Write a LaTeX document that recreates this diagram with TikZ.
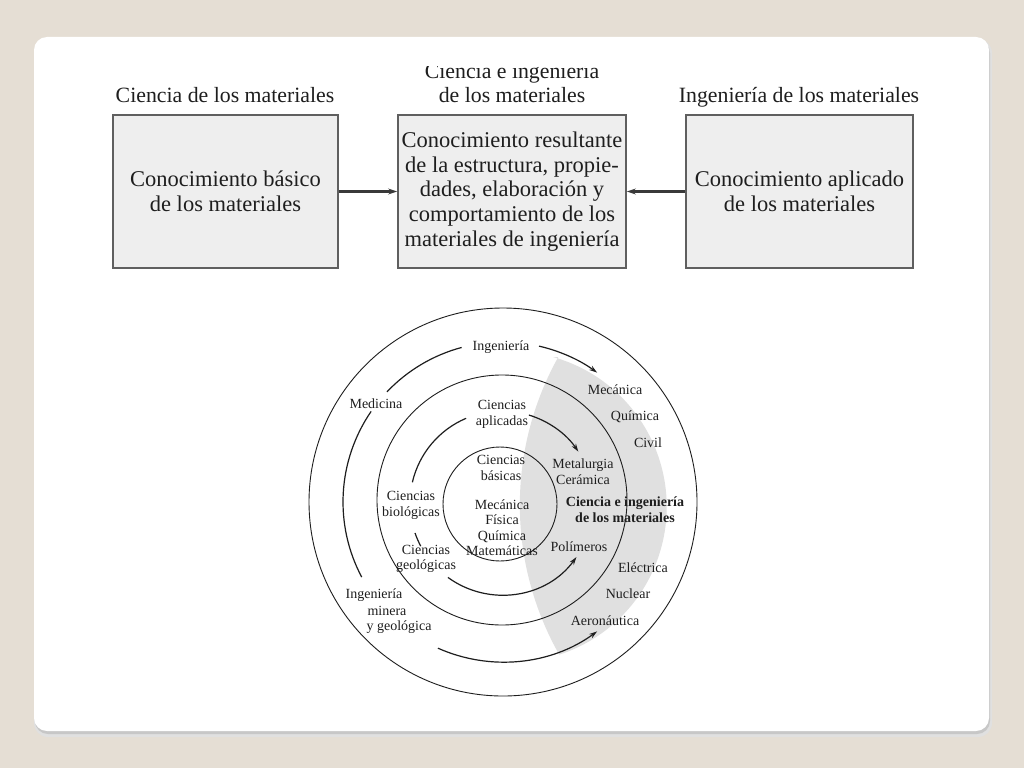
\documentclass[tikz,border=0pt]{standalone}
\usepackage{fontspec}
\setmainfont{Liberation Serif}
\usetikzlibrary{arrows.meta}
\definecolor{bgbeige}{RGB}{229,222,212}
\definecolor{boxfill}{RGB}{238,238,238}
\definecolor{boxline}{RGB}{95,95,95}
\definecolor{shadegray}{RGB}{224,224,224}
\definecolor{ink}{RGB}{30,30,30}
\begin{document}
\begin{tikzpicture}[x=1pt,y=1pt,
  box/.style={draw=boxline, line width=1.8pt, fill=boxfill, minimum width=#1, minimum height=153pt, inner sep=0pt, align=center, font=\fontsize{22.5}{24.8}\selectfont, text=ink},
  head/.style={font=\fontsize{21.8}{24}\selectfont, text=ink, align=center, inner sep=0pt, anchor=base},
  lbl/.style={font=\fontsize{14}{15.5}\selectfont, text=ink, align=center, inner sep=0pt},
  ring/.style={draw=ink, line width=0.9pt},
  flow/.style={draw=ink, line width=1.2pt},
  tip/.style={-{Stealth[length=8pt,width=5pt]}},
  toparrow/.style={draw=boxline!60!black, line width=2.2pt, -{Stealth[length=9pt,width=6pt]}},
]
\useasboundingbox (0,0) rectangle (1024,-768);
\fill[bgbeige] (0,0) rectangle (1024,-768);
% panel with shadow
\fill[black!12, rounded corners=14pt] (34,-39) rectangle (992,-737);
\fill[black!22, rounded corners=13pt] (35,-40) rectangle (990,-734);
\fill[white, rounded corners=13pt] (34,-37) rectangle (989,-731);

% ---- top diagram ----
\node[box=225pt] (b1) at (225.5,-191.5) {Conocimiento básico\\de los materiales};
\node[box=228pt] (b2) at (512,-191.5) {Conocimiento resultante\\de la estructura, propie-\\dades, elaboración y\\comportamiento de los\\materiales de ingeniería};
\node[box=227pt] (b3) at (799.5,-191.5) {Conocimiento aplicado\\de los materiales};
\draw[toparrow] (b1.east) -- (b2.west);
\draw[toparrow] (b3.west) -- (b2.east);

\node[head] (h1) at (225,-102) {Ciencia de los materiales};
\begin{scope}
\clip (380,-66) rectangle (650,-110);
\node[head] (h2a) at (512,-78) {Ciencia e ingeniería};
\end{scope}
\node[head] (h2b) at (512,-102) {de los materiales};
\node[head] (h3) at (799,-102) {Ingeniería de los materiales};

% ---- circle diagram ----
\fill[shadegray] (553,-357) arc[start angle=74.4, end angle=-72, radius=155.5]
  arc[start angle=209.5, end angle=150.9, radius=304] -- cycle;

\draw[ring] (503,-502) circle[radius=194];
\draw[ring] (502,-500) circle[radius=125];
\draw[ring] (500,-504) circle[radius=57];

\coordinate (C) at (503,-502);
\coordinate (C2) at (502,-503);
\draw[flow] ([shift={(208:160)}]C) arc[start angle=208,end angle=145.5,radius=160];
\draw[flow] ([shift={(136.5:160)}]C) arc[start angle=136.5,end angle=105,radius=160];
\draw[flow,tip] ([shift={(77:160)}]C) arc[start angle=77,end angle=54,radius=160];
\draw[flow,tip] ([shift={(246:160)}]C) arc[start angle=246,end angle=306,radius=160];

\draw[flow,tip] ([shift={(73:92)}]C2) arc[start angle=73,end angle=34,radius=92];
\draw[flow] ([shift={(113:92)}]C2) arc[start angle=113,end angle=167,radius=92];
\draw[flow] ([shift={(199:92)}]C2) arc[start angle=199,end angle=208,radius=92];
\draw[flow,tip] ([shift={(234:92)}]C2) arc[start angle=234,end angle=324,radius=92];

\node[lbl] (ing) at (501,-347) {Ingeniería};
\node[lbl] (med) at (376,-404) {Medicina};
\node[lbl] (mec) at (615,-390) {Mecánica};
\node[lbl] (qui) at (635,-417) {Química};
\node[lbl] (civ) at (648,-443) {Civil};
\node[lbl] (apl) at (502,-414.5) {Ciencias\\aplicadas};
\node[lbl] (bas) at (501,-468) {Ciencias\\básicas};
\node[lbl] (met) at (583,-471.5) {Metalurgia\\Cerámica};
\node[lbl] (bio) at (411,-505.5) {Ciencias\\biológicas};
\node[lbl] (core) at (502,-527.5) {Mecánica\\Física\\Química\\Matemáticas};
\node[lbl, font=\fontsize{14}{15.5}\selectfont\bfseries] (cim) at (625,-509.5) {Ciencia e ingeniería\\de los materiales};
\node[lbl] (pol) at (579,-547) {Polímeros};
\node[lbl] (geo) at (426,-559) {Ciencias\\geológicas};
\node[lbl] (ele) at (643,-568) {Eléctrica};
\node[lbl] (nuc) at (628,-594) {Nuclear};
\node[lbl] (aer) at (605,-621) {Aeronáutica};
\node[lbl] (min1) at (374,-595) {Ingeniería};
\node[lbl] (min2) at (387,-611) {minera};
\node[lbl] (min3) at (399,-627) {y geológica};
\end{tikzpicture}
\end{document}
